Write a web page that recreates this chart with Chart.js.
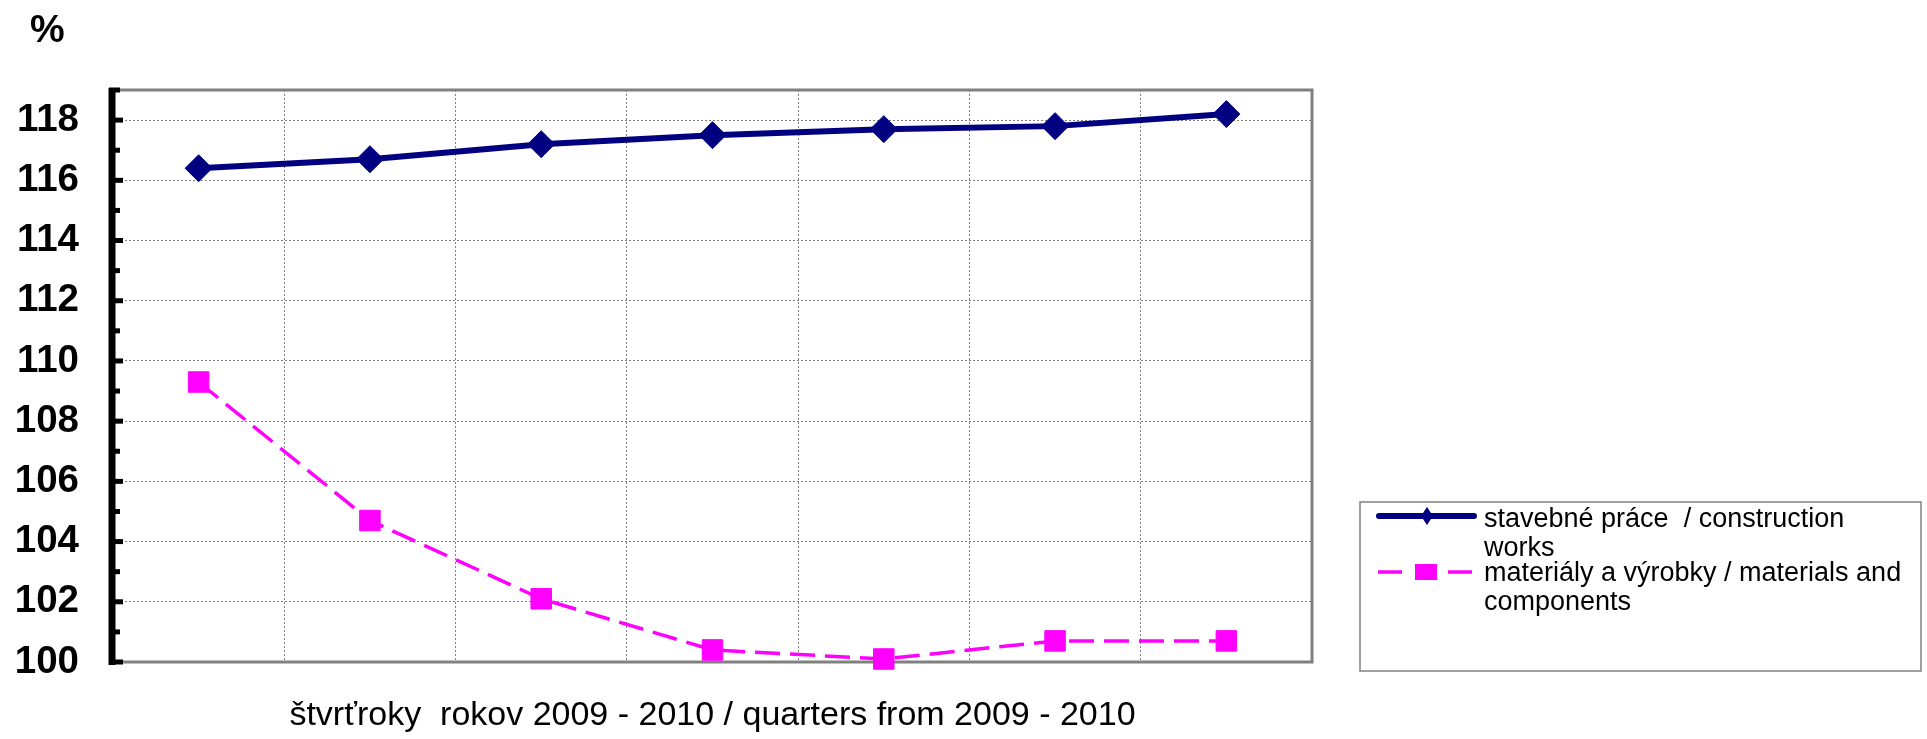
<!DOCTYPE html>
<html>
<head>
<meta charset="utf-8">
<title>stavebné práce / materiály a výrobky</title>
<script src="https://cdn.jsdelivr.net/npm/chart.js@4.4.1/dist/chart.umd.min.js"></script>
<style>
  html, body { margin: 0; padding: 0; background: #fff; }
  #chart { display: block; }
</style>
</head>
<body>
<canvas id="chart" width="1927" height="739"></canvas>
<script>
// quarters 2009 - 2010 (the chart prints no category labels)
const quarters = ['I/2009', 'II/2009', 'III/2009', 'IV/2009', 'I/2010', 'II/2010', 'III/2010'];
const constructionWorks = [116.4, 116.7, 117.2, 117.5, 117.7, 117.8, 118.2];
const materialsComponents = [109.3, 104.7, 102.1, 100.4, 100.1, 100.7, 100.7];
const seriesNames = [
    ['stavebné práce  / construction', 'works'],
    ['materiály a výrobky / materials and', 'components']
];
const yMin = 100;
const yMax = 119;
const unitLabel = '%';
const xTitle = 'štvrťroky  rokov 2009 - 2010 / quarters from 2009 - 2010';

const NAVY = '#000080';
const MAGENTA = '#FF00FF';
const GRID = '#808080';
const FONT = "'Liberation Sans', Arial, sans-serif";

Chart.defaults.font.family = FONT;
Chart.defaults.color = '#000';

// frame, black value axis, "%" and the boxed legend
const framePlugin = {
    id: 'frame',
    beforeDatasetsDraw(chart) {
        const { ctx, chartArea: a, scales: { y } } = chart;
        ctx.save();
        ctx.strokeStyle = GRID;
        ctx.lineWidth = 3;
        ctx.strokeRect(a.left, a.top, a.right - a.left, a.bottom - a.top);

        ctx.strokeStyle = '#000';
        ctx.lineCap = 'butt';
        ctx.lineWidth = 7;
        ctx.beginPath();
        ctx.moveTo(a.left - 1, a.top - 2);
        ctx.lineTo(a.left - 1, a.bottom + 3);
        ctx.stroke();

        ctx.lineWidth = 5;
        y.ticks.forEach(t => {
            const py = y.getPixelForValue(t.value);
            const len = t.value % 2 === 0 ? 10 : 7;
            ctx.beginPath();
            ctx.moveTo(a.left - 4, py);
            ctx.lineTo(a.left + len, py);
            ctx.stroke();
        });
        ctx.restore();
    },
    afterDraw(chart) {
        const { ctx } = chart;
        ctx.save();
        ctx.fillStyle = '#000';
        ctx.textBaseline = 'alphabetic';
        ctx.font = 'bold 39px ' + FONT;
        ctx.fillText(unitLabel, 30, 42);

        // legend box
        ctx.strokeStyle = GRID;
        ctx.lineWidth = 1.5;
        ctx.strokeRect(1360, 502, 561, 169);

        // construction works symbol
        ctx.strokeStyle = NAVY;
        ctx.lineWidth = 6;
        ctx.lineCap = 'round';
        ctx.beginPath();
        ctx.moveTo(1379, 516);
        ctx.lineTo(1474, 516);
        ctx.stroke();
        ctx.fillStyle = NAVY;
        ctx.beginPath();
        ctx.moveTo(1427 - 6, 516);
        ctx.lineTo(1427, 516 - 9);
        ctx.lineTo(1427 + 6, 516);
        ctx.lineTo(1427, 516 + 9);
        ctx.closePath();
        ctx.fill();

        // materials symbol
        ctx.strokeStyle = MAGENTA;
        ctx.lineWidth = 3.5;
        ctx.lineCap = 'butt';
        ctx.beginPath();
        ctx.moveTo(1378, 572);
        ctx.lineTo(1402, 572);
        ctx.moveTo(1448, 572);
        ctx.lineTo(1472, 572);
        ctx.stroke();
        ctx.fillStyle = MAGENTA;
        ctx.fillRect(1415, 564, 22, 16);

        // legend text
        ctx.fillStyle = '#000';
        ctx.font = '27px ' + FONT;
        const lines = [
            [seriesNames[0][0], 527],
            [seriesNames[0][1], 556],
            [seriesNames[1][0], 581],
            [seriesNames[1][1], 610]
        ];
        lines.forEach(([text, base]) => ctx.fillText(text, 1484, base));
        ctx.restore();
    }
};

new Chart(document.getElementById('chart'), {
    type: 'line',
    data: {
        labels: quarters,
        datasets: [
            {
                label: seriesNames[0].join(' '),
                data: constructionWorks,
                borderColor: NAVY,
                backgroundColor: NAVY,
                borderWidth: 6,
                pointStyle: 'rectRot',
                pointRadius: 13.5,
                pointBorderWidth: 1,
                pointBorderColor: NAVY,
                pointBackgroundColor: NAVY,
                tension: 0,
                clip: false
            },
            {
                label: seriesNames[1].join(' '),
                data: materialsComponents,
                borderColor: MAGENTA,
                backgroundColor: MAGENTA,
                borderWidth: 3.5,
                borderDash: [25, 10],
                pointStyle: 'rect',
                pointRadius: 14.5,
                pointBorderWidth: 1,
                pointBorderColor: MAGENTA,
                pointBackgroundColor: MAGENTA,
                tension: 0,
                clip: false
            }
        ]
    },
    options: {
        responsive: false,
        devicePixelRatio: 1,
        animation: false,
        layout: { padding: { left: 0, top: 90, right: 615, bottom: 0 } },
        plugins: {
            legend: { display: false },
            tooltip: { enabled: false }
        },
        scales: {
            x: {
                type: 'category',
                offset: true,
                grid: {
                    offset: true,
                    drawTicks: false,
                    color: GRID,
                    lineWidth: 1
                },
                border: { display: false, dash: [2, 2] },
                ticks: { display: false },
                title: {
                    display: true,
                    text: xTitle,
                    color: '#000',
                    font: { size: 34, lineHeight: 1 },
                    padding: { top: 0, bottom: 6 }
                },
                afterFit(scale) { scale.height = 77; }
            },
            y: {
                min: yMin,
                max: yMax,
                ticks: {
                    stepSize: 1,
                    maxTicksLimit: 30,
                    autoSkip: false,
                    padding: 34,
                    color: '#000',
                    font: { size: 38.5, weight: 'bold' },
                    callback: v => (v % 2 === 0 ? v : '')
                },
                grid: {
                    drawTicks: false,
                    lineWidth: 1,
                    color: c => (c.tick && c.tick.value % 2 === 0 && c.tick.value > yMin && c.tick.value < yMax)
                        ? GRID : 'rgba(0,0,0,0)'
                },
                border: { display: false, dash: [2, 2] },
                afterFit(scale) { scale.width = 113; }
            }
        }
    },
    plugins: [framePlugin]
});
</script>
</body>
</html>
